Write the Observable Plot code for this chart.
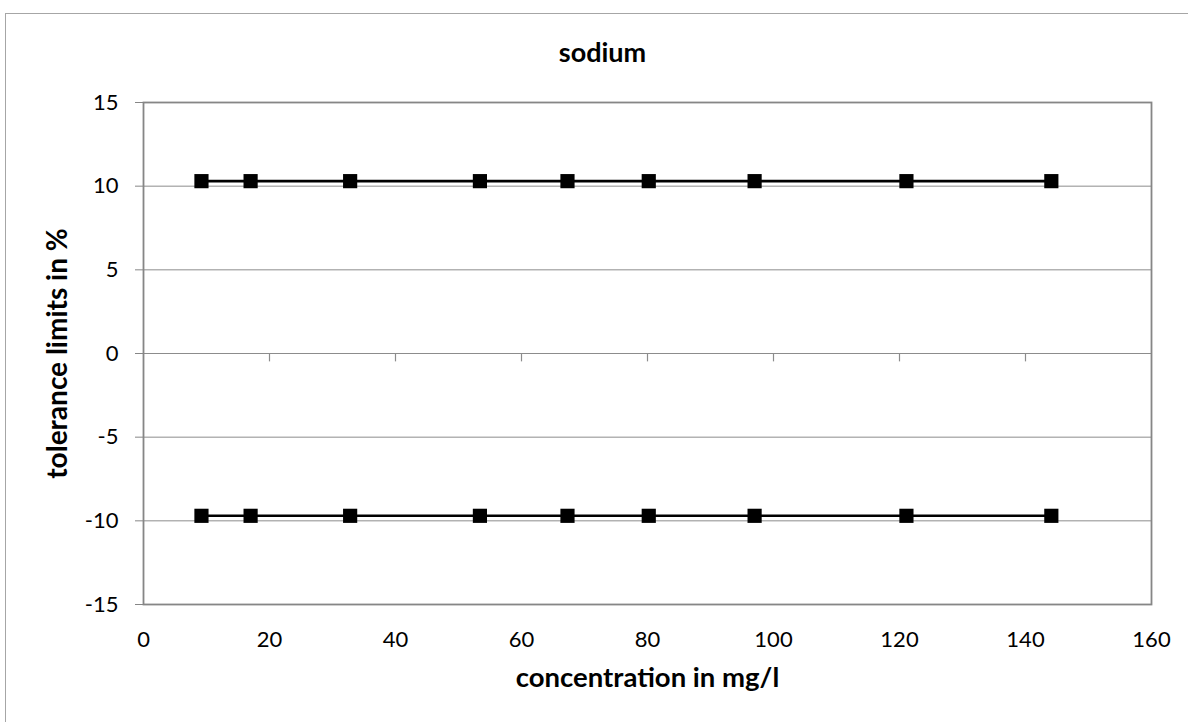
<!DOCTYPE html>
<html>
<head>
<meta charset="utf-8">
<script src="https://cdn.jsdelivr.net/npm/d3@7"></script>
<script src="https://cdn.jsdelivr.net/npm/@observablehq/plot@0.6"></script>
<style>
  html, body { margin: 0; padding: 0; background: #fff; }
  #wrap { position: relative; width: 1188px; height: 722px; overflow: hidden; }
  #outer { position: absolute; left: 5px; top: 13px; width: 1400px; height: 1000px;
           border-left: 1px solid #a6a6a6; border-top: 1px solid #a6a6a6; pointer-events: none; }
  #chart { position: absolute; left: 0; top: 0; }
</style>
</head>
<body>
<div id="wrap"><div id="chart"></div><div id="outer"></div></div>
<script>
const title = "sodium";
const xLabel = "concentration in mg/l";
const yLabel = "tolerance limits in %";
const concentration = [9.2, 17.0, 32.8, 53.4, 67.3, 80.2, 97.0, 121.1, 144.1];
const upperLimit = [10.3, 10.3, 10.3, 10.3, 10.3, 10.3, 10.3, 10.3, 10.3];
const lowerLimit = [-9.7, -9.7, -9.7, -9.7, -9.7, -9.7, -9.7, -9.7, -9.7];
const xTicks = [0, 20, 40, 60, 80, 100, 120, 140, 160];
const yTicks = [-15, -10, -5, 0, 5, 10, 15];

const data = [
  ...concentration.map((c, i) => ({x: c, y: upperLimit[i], s: "upper"})),
  ...concentration.map((c, i) => ({x: c, y: lowerLimit[i], s: "lower"}))
];

const font = "Lato, 'Open Sans', sans-serif";
const fmt = d => String(d);

const chart = Plot.plot({
  width: 1188,
  height: 722,
  marginLeft: 143,
  marginRight: 37,
  marginTop: 102,
  marginBottom: 118,
  style: {fontFamily: font, fontSize: "22px", color: "#000", background: "transparent"},
  x: {domain: [0, 160]},
  y: {domain: [-15, 15]},
  marks: [
    Plot.gridY(yTicks, {stroke: "#8c8c8c", strokeOpacity: 1, strokeWidth: 1}),
    Plot.ruleX(xTicks.slice(1, -1), {y1: 0, y2: -0.5, stroke: "#8c8c8c", strokeWidth: 1.2}),
    Plot.frame({stroke: "#868686", strokeWidth: 1.8}),
    Plot.axisY(yTicks, {tickSize: 8, tickPadding: 17, stroke: "#868686", label: null, fontSize: 22, tickFormat: fmt}),
    Plot.axisX(xTicks, {tickSize: 0, tickPadding: 27, label: null, fontSize: 22, tickFormat: fmt}),
    Plot.line(data, {x: "x", y: "y", z: "s", stroke: "#000", strokeWidth: 2.6}),
    Plot.dot(data, {x: "x", y: "y", symbol: "square", r: 8, fill: "#000", stroke: "none"}),
    Plot.text([title], {frameAnchor: "top-left", dx: 459, dy: -49, lineAnchor: "middle", text: d => d,
      fontWeight: "bold", fontSize: 27, textAnchor: "middle"}),
    Plot.text([xLabel], {frameAnchor: "bottom", dy: 74, lineAnchor: "middle", text: d => d,
      fontWeight: "bold", fontSize: 27.5, textAnchor: "middle"}),
    Plot.text([yLabel], {frameAnchor: "left", dx: -85, lineAnchor: "middle", text: d => d,
      fontWeight: "bold", fontSize: 28, rotate: -90, textAnchor: "middle"})
  ]
});
document.getElementById("chart").appendChild(chart);
</script>
</body>
</html>
